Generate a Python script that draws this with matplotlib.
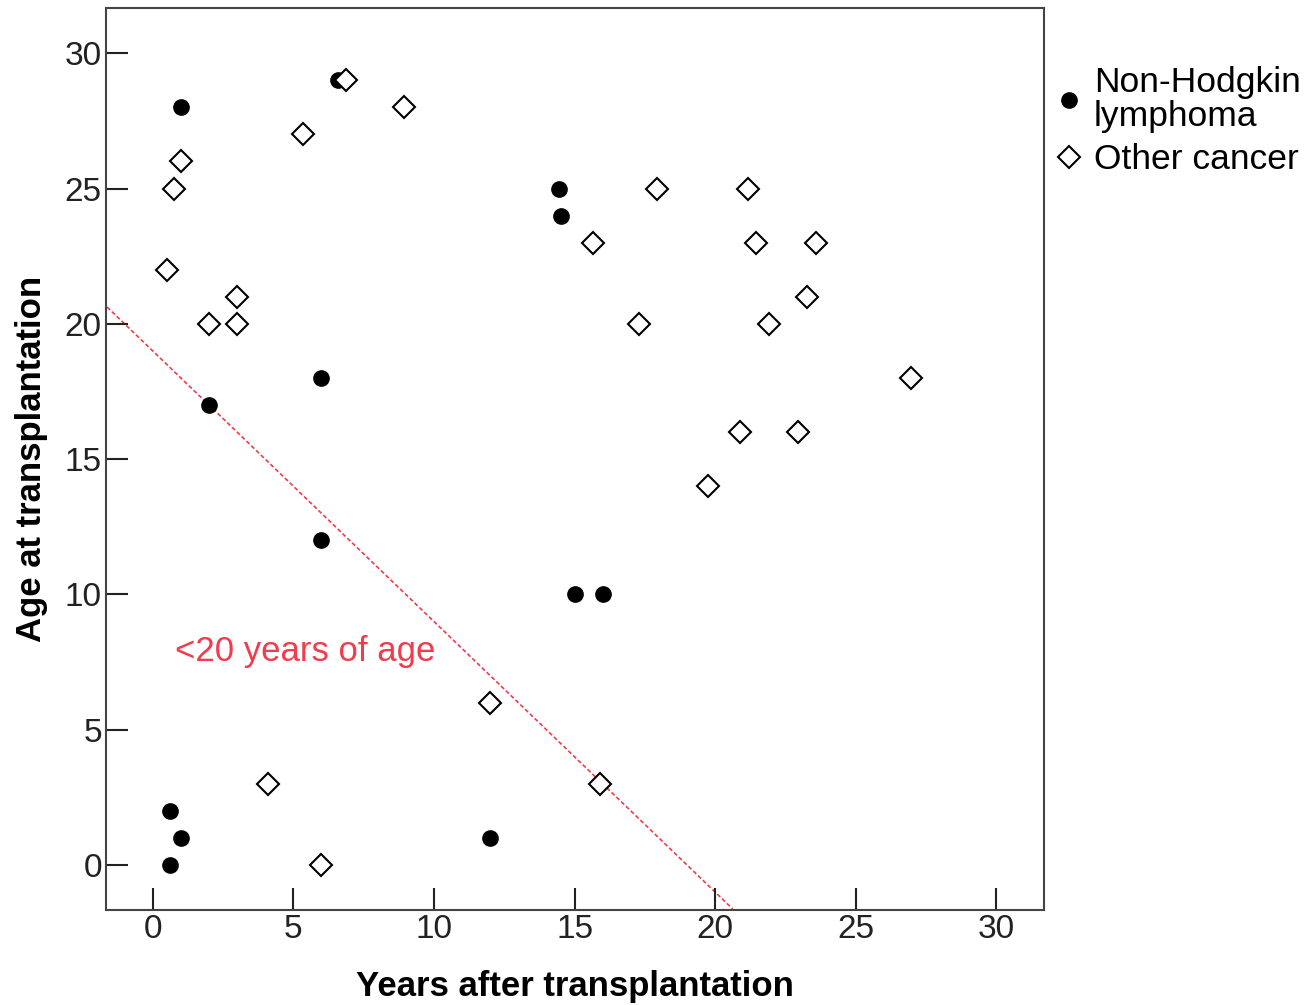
import matplotlib
matplotlib.use("Agg")
import matplotlib.pyplot as plt

plt.rcParams['font.family'] = ['Liberation Sans', 'DejaVu Sans']

# Non-Hodgkin lymphoma cases: years after transplantation, age at transplantation
nhl_years = [1.0, 6.6, 14.45, 14.5, 6.0, 2.0, 6.0, 15.0, 16.0, 0.6, 1.0, 0.6, 12.0]
nhl_age = [28, 29, 25, 24, 18, 17, 12, 10, 10, 2, 1, 0, 1]

# Other cancer cases
oth_years = [6.87, 8.93, 5.34, 1.0, 0.75, 0.5, 3.0, 2.0, 3.0, 17.94, 15.66, 17.3,
             21.17, 21.46, 23.6, 23.27, 21.9, 26.97, 20.89, 22.95, 19.75,
             12.0, 15.9, 4.09, 5.98]
oth_age = [29, 28, 27, 26, 25, 22, 21, 20, 20, 25, 23, 20,
           25, 23, 23, 21, 20, 18, 16, 16, 14,
           6, 3, 3, 0]

# reference line endpoints (age + years ~ 19)
line_x = [-1.62, 20.62]
line_y = [20.62, -1.62]

ticks = [0, 5, 10, 15, 20, 25, 30]

fig = plt.figure(figsize=(13.08, 10.05), dpi=100)
ax = fig.add_axes([106/1308, 1 - 910/1005, (1044-106)/1308, (910-8)/1005])

ax.plot(line_x, line_y, color='#f03c4c', linestyle=(0, (2.5, 1.5)), linewidth=1.2, zorder=1)

ax.plot(nhl_years, nhl_age, linestyle='none', marker='o', markersize=11,
        color='black', label='Non-Hodgkin\nlymphoma', zorder=3)
ax.plot(oth_years, oth_age, linestyle='none', marker='D', markersize=11.5,
        markerfacecolor='white', markeredgecolor='black', markeredgewidth=1.5,
        label='Other cancer', zorder=3)

ax.text(0.8, 7.9, '<20 years of age', color='#f03c4c', fontsize=25, va='center', ha='left')

ax.set_xlim(-1.66, 31.69)
ax.set_ylim(-1.66, 31.67)
ax.set_xticks(ticks)
ax.set_yticks(ticks)
ax.tick_params(direction='in', length=16, width=1.5, labelsize=24, pad=3, colors='#222222')
for s in ax.spines.values():
    s.set_linewidth(1.5)
    s.set_color('#444444')

ax.set_xlabel('Years after transplantation', fontsize=25, fontweight='bold', labelpad=18)
ax.set_ylabel('Age at transplantation', fontsize=25, fontweight='bold', labelpad=12)

leg = fig.legend(loc='upper left', bbox_to_anchor=(1055/1308, 1 - 66/1005), frameon=False,
                 fontsize=25.5, handlelength=0.8, handletextpad=0.3, labelspacing=0.3,
                 borderpad=0, borderaxespad=0)
for t in leg.get_texts():
    t.set_linespacing(1.02)

fig.savefig('out.png', dpi=100)
